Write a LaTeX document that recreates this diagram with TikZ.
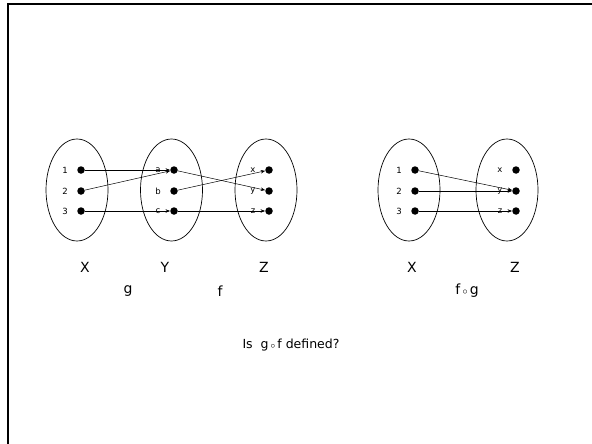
\documentclass[tikz,border=0pt]{standalone}
\usepackage{fontspec}
\setmainfont{DejaVu Sans}
\usetikzlibrary{arrows.meta,positioning}
\tikzset{
  setdot/.style={circle,fill=black,inner sep=0pt,minimum size=7.5pt},
  elemlabel/.style={font=\fontsize{8.5}{9}\selectfont},
  setname/.style={font=\fontsize{14}{16}\selectfont},
  maparrow/.style={-{Stealth[length=4.5pt,width=3.5pt]},line width=0.5pt},
}
% #1 prefix, #2 ellipse centre x, #3 dot x, #4--#6 element labels
\newcommand{\mapset}[6]{%
  \draw[line width=0.7pt] (#2,190) ellipse (31 and 51);%
  \foreach \elem/\yy in {#4/170,#5/191,#6/211}{%
    \node[setdot] (#1\elem) at (#3,\yy) {};%
    \node[elemlabel] (#1\elem lbl) at (#3-16,\yy) {\elem};%
  }%
}

\begin{document}
\begin{tikzpicture}[x=1pt,y=-1pt]
  \useasboundingbox (0,0) rectangle (592,444);
  \draw[line width=2pt] (592,4.5) -- (7.5,4.5) -- (7.5,444);
  % g then f
  \mapset{L}{77}{81}{1}{2}{3}
  \mapset{M}{171.5}{174}{a}{b}{c}
  \mapset{R}{266}{269}{x}{y}{z}
  \draw[maparrow] (L1) -- (Ma);
  \draw[maparrow] (L2) -- (Ma);
  \draw[maparrow] (L3) -- (Mc);
  \draw[maparrow] (Ma) -- (Ry);
  \draw[maparrow] (Mb) -- (Rx);
  \draw[maparrow] (Mc) -- (Rz);
  \node[setname] (nameX) at (85,267) {X};
  \node[setname] (nameY) at (165,267) {Y};
  \node[setname] (nameZ) at (264,267) {Z};
  \node[setname] (nameg) at (128,291) {g};
  \node[setname] (namef) at (220,291) {f};
  % the composite
  \mapset{P}{409}{415}{1}{2}{3}
  \mapset{Q}{507}{516}{x}{y}{z}
  \draw[maparrow] (P1) -- (Qy);
  \draw[maparrow] (P2) -- (Qy);
  \draw[maparrow] (P3) -- (Qz);
  \node[setname] (nameX2) at (412,267) {X};
  \node[setname] (nameZ2) at (515,267) {Z};
  \node[setname] (namefg) at (467,291) {f\,$\scriptstyle\circ$\,g};
  \node[font=\fontsize{12.5}{14}\selectfont] (question) at (291,345)
    {Is\ \ g\,$\scriptstyle\circ$\,f defined?};
\end{tikzpicture}
\end{document}
